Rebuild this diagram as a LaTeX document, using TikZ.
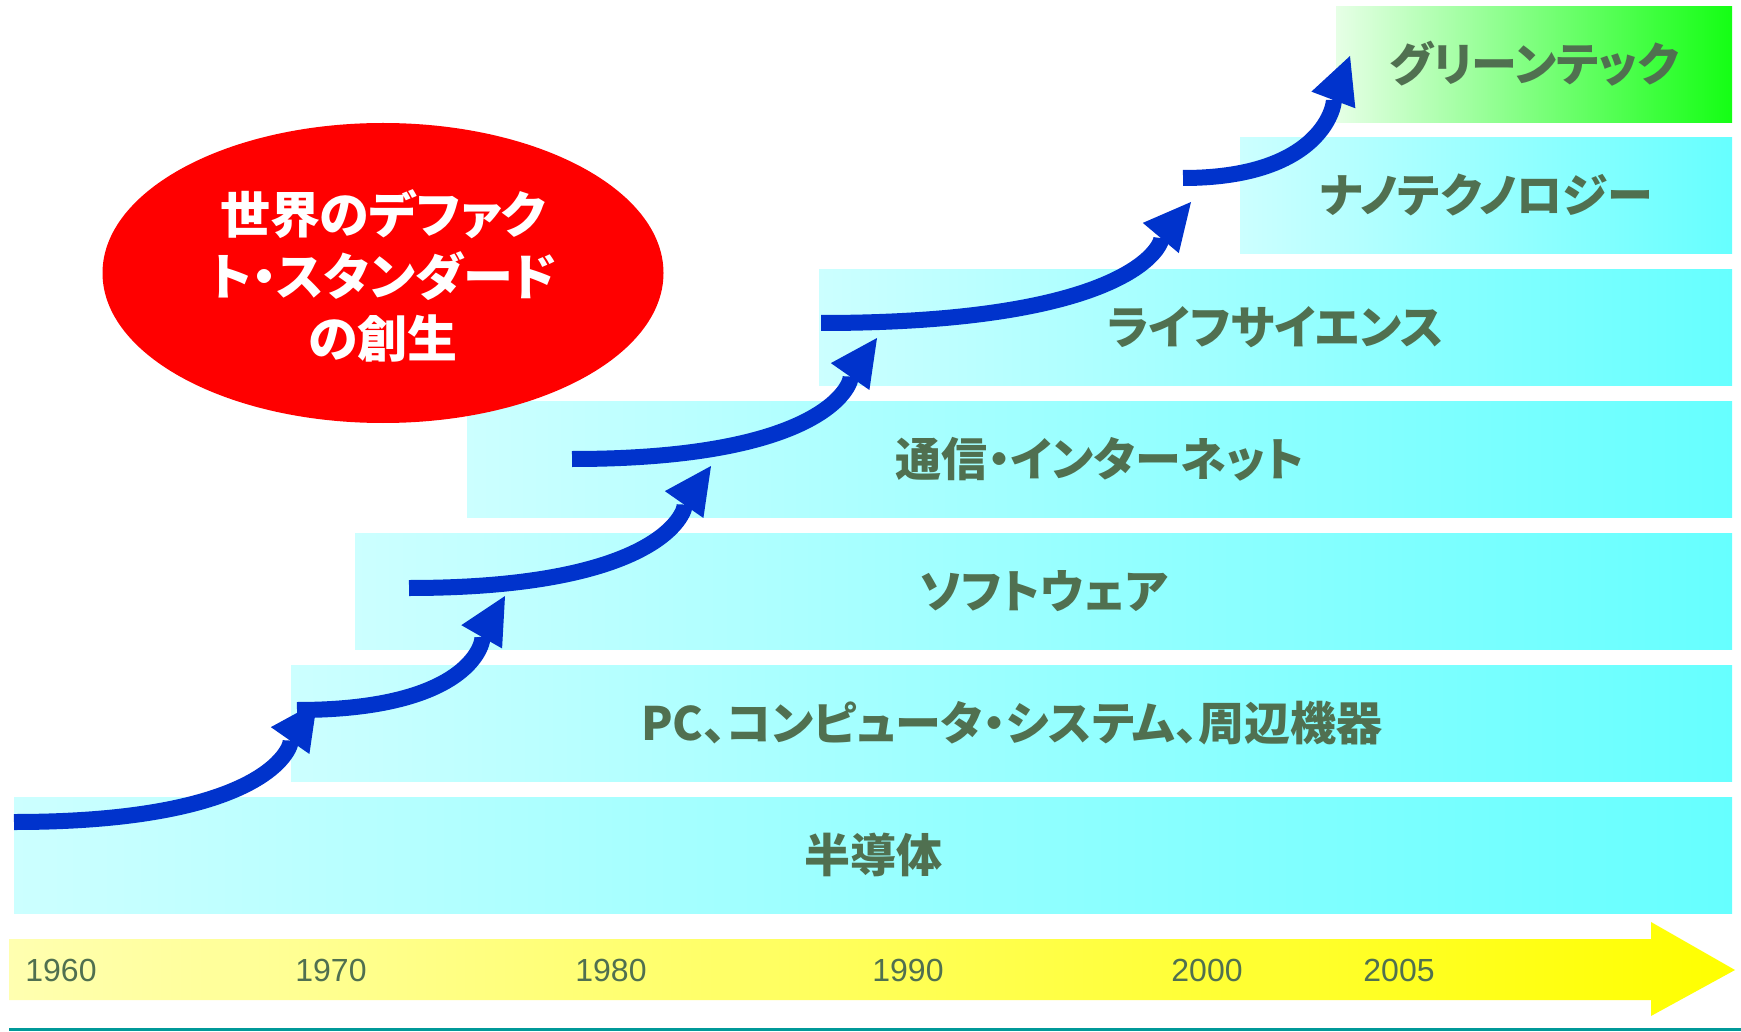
\documentclass[tikz,border=0pt]{standalone}
\usepackage{fontspec}
\newfontfamily\jp[RawFeature=+palt]{Noto Sans CJK JP}
\newfontfamily\numfont{Liberation Sans}
\usetikzlibrary{arrows.meta,shapes.geometric}
\definecolor{lbl}{RGB}{80,112,80}
\definecolor{arrblue}{RGB}{0,51,204}
\definecolor{tealline}{RGB}{0,153,153}
\definecolor{cyanL}{RGB}{204,255,255}
\definecolor{cyanR}{RGB}{102,255,255}
\definecolor{grnL}{RGB}{230,255,230}
\definecolor{grnR}{RGB}{20,255,20}
\definecolor{yelL}{RGB}{255,255,176}
\definecolor{yelR}{RGB}{255,255,0}
\begin{document}
\begin{tikzpicture}[x=1pt,y=-1pt,
  bar/.style={left color=cyanL,right color=cyanR,draw=none,anchor=north west,
    minimum height=116pt,inner sep=0pt,text=lbl,
    font=\jp\bfseries\fontsize{46}{50}\selectfont,text height=39pt,text depth=4pt},
  gbar/.style={bar,left color=grnL,right color=grnR},
  yr/.style={text=lbl,font=\numfont\fontsize{32}{36}\selectfont,inner sep=0pt,
    text height=23pt,text depth=0pt},
  arr/.style={draw=arrblue,line width=16pt,
    -{Triangle[length=47pt,width=47pt,line width=0pt]}},
]
\useasboundingbox (0,0) rectangle (1741,1032);
% bars
\node[bar,minimum width=1718pt] (b1) at (14,797) {半導体};
\node[bar,minimum width=1441pt] (b2) at (291,665) {PC、コンピュータ・システム、周辺機器};
\node[bar,minimum width=1377pt] (b3) at (355,533) {ソフトウェア};
\node[bar,minimum width=1265pt] (b4) at (467,401) {通信・インターネット};
\node[bar,minimum width=913pt] (b5) at (819,269) {ライフサイエンス};
\node[bar,minimum width=492pt] (b6) at (1240,137) {ナノテクノロジー};
\node[gbar,minimum width=396pt] (b7) at (1336,6) {グリーンテック};
% timeline
\shade[left color=yelL,right color=yelR] (9,939) -- (1651,939) -- (1651,922) -- (1735,970)
  -- (1651,1016) -- (1651,1000) -- (9,1000) -- cycle;
\node[yr] (y1960) at (61,970) {1960};
\node[yr] (y1970) at (331,970) {1970};
\node[yr] (y1980) at (611,970) {1980};
\node[yr] (y1990) at (908,970) {1990};
\node[yr] (y2000) at (1207,970) {2000};
\node[yr] (y2005) at (1399,970) {2005};
\draw[tealline,line width=3pt] (9,1029) -- (1741,1029);
% ellipse
\node[ellipse,fill=red,minimum width=561pt,minimum height=300pt,inner sep=0pt] (ell) at (383,273) {};
\node[text=white,align=center,inner sep=0pt,font=\jp\bfseries\fontsize{50}{62}\selectfont]
  (etxt) at (383,276) {世界のデファク\\ト・スタンダード\\の創生};
% arrows
\coordinate (s1) at (14,822);   \coordinate (t1) at (317,702);
\coordinate (s2) at (297,710);  \coordinate (t2) at (505,596);
\coordinate (s3) at (409,588);  \coordinate (t3) at (711,466);
\coordinate (s4) at (572,459);  \coordinate (t4) at (877,338);
\coordinate (s5) at (821,323);  \coordinate (t5) at (1191,202);
\coordinate (s6) at (1183,178); \coordinate (t6) at (1350,56);
\draw[arr] (s1) .. controls +(273,0) and +(-23,33) .. (t1);
\draw[arr] (s2) .. controls +(187,0) and +(-20,35) .. (t2);
\draw[arr] (s3) .. controls +(272,0) and +(-23,33) .. (t3);
\draw[arr] (s4) .. controls +(275,0) and +(-23,33) .. (t4);
\draw[arr] (s5) .. controls +(333,0) and +(-26,31) .. (t5);
\draw[arr] (s6) .. controls +(150,0) and +(-14,37) .. (t6);
\end{tikzpicture}
\end{document}
